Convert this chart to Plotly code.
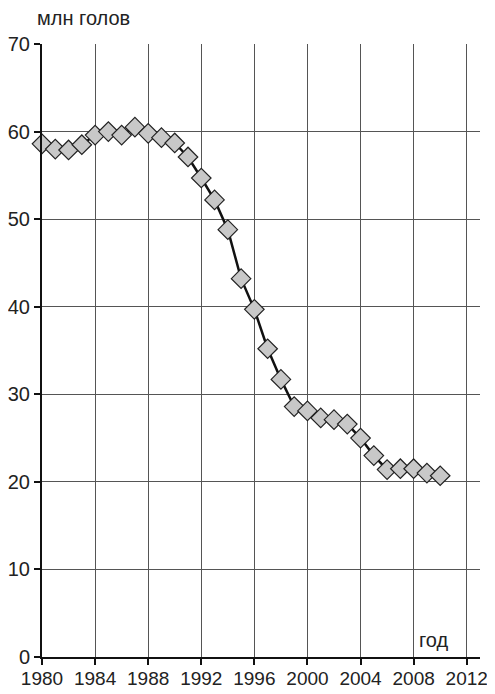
import plotly.graph_objects as go

years = list(range(1980, 2011))
values = [58.6, 58.0, 57.9, 58.5, 59.6, 60.0, 59.6, 60.5, 59.8, 59.3, 58.7,
          57.1, 54.7, 52.2, 48.8, 43.2, 39.7, 35.2, 31.7, 28.6, 28.1,
          27.3, 27.1, 26.6, 25.0, 23.0, 21.4, 21.5, 21.5, 21.0, 20.7]
x_ticks = list(range(1980, 2013, 4))
y_ticks = list(range(0, 71, 10))

fig = go.Figure()
fig.add_trace(go.Scatter(
    x=years, y=values, mode="lines+markers",
    line=dict(color="#111111", width=2.5),
    marker=dict(symbol="diamond", size=15, color="#c8c8c8",
                line=dict(color="#222222", width=1.2)),
    showlegend=False, cliponaxis=False))

font = "Liberation Sans, Arial, sans-serif"
# page body adds an 8px offset, so the figure is sized to fit the window
fig.update_layout(
    width=487, height=686,
    margin=dict(l=34, r=15, t=36, b=37),
    paper_bgcolor="white", plot_bgcolor="white",
    font=dict(family=font, color="#222222"),
    xaxis=dict(range=[1980, 2013], tickvals=x_ticks, ticktext=[str(t) for t in x_ticks],
               showgrid=True, gridcolor="#555555", gridwidth=1,
               showline=True, linecolor="#111111", linewidth=2,
               ticks="outside", ticklen=6, tickwidth=2, tickcolor="#111111",
               tickfont=dict(size=19, family=font, color="#222222"),
               ticklabelstandoff=-3,
               zeroline=False, fixedrange=True, automargin=False),
    yaxis=dict(range=[0, 70], tickvals=y_ticks,
               showgrid=True, gridcolor="#555555", gridwidth=1,
               showline=True, linecolor="#111111", linewidth=2,
               ticks="outside", ticklen=6, tickwidth=2, tickcolor="#111111",
               tickfont=dict(size=20, family=font, color="#222222"),
               zeroline=False, fixedrange=True, automargin=False),
    annotations=[
        dict(text="млн голов", xref="paper", yref="paper", x=-0.017, y=1.0,
             yshift=26, xanchor="left", yanchor="middle", showarrow=False,
             font=dict(size=20, family=font, color="#222222")),
        dict(text="год", xref="x", yref="paper", x=2009.5, y=0, yshift=17,
             xanchor="center", yanchor="middle", showarrow=False,
             font=dict(size=20, family=font, color="#222222")),
    ],
)

fig.write_html("out.html")
